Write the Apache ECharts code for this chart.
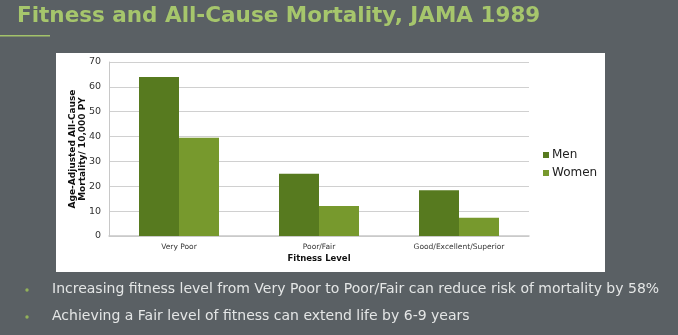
<!DOCTYPE html>
<html>
<head>
<meta charset="utf-8">
<script src="https://cdn.jsdelivr.net/npm/echarts@6/dist/echarts.min.js"></script>
<style>
  html, body { margin: 0; padding: 0; background: #5a6064; }
  #chart { width: 678px; height: 335px; }
</style>
</head>
<body>
<div id="chart"></div>
<script>
// Fitness categories and age-adjusted all-cause mortality per 10,000 person-years
const categories = ['Very Poor', 'Poor/Fair', 'Good/Excellent/Superior'];
const menValues = [64, 25, 18.4];
const womenValues = [39.5, 12.1, 7.3];
const yTicks = { min: 0, max: 70, interval: 10 };

const titleText = 'Fitness and All-Cause Mortality, JAMA 1989';
const bulletLines = [
  'Increasing fitness level from Very Poor to Poor/Fair can reduce risk of mortality by 58%',
  'Achieving a Fair level of fitness can extend life by 6-9 years'
];

const chart = echarts.init(document.getElementById('chart'), null, { renderer: 'canvas' });

const baseFont = 'Verdana, "DejaVu Sans", sans-serif';

const graphics = [
  // white chart panel
  { type: 'rect', z: -10, shape: { x: 56, y: 53, width: 549, height: 219 }, style: { fill: '#ffffff' } },
  // short rule under the heading
  { type: 'rect', shape: { x: 0, y: 35, width: 50, height: 1.5 }, style: { fill: '#a3c26a' } },
  // heading
  {
    type: 'text', left: 17, top: 5,
    style: {
      text: titleText, fill: '#a6c66c',
      font: 'bold 21.5px "DejaVu Sans", sans-serif',
      shadowColor: 'rgba(0,0,0,0.55)', shadowOffsetX: 1.5, shadowOffsetY: 1.5, shadowBlur: 1
    }
  }
];

bulletLines.forEach((line, i) => {
  const y = 290 + i * 27;
  graphics.push({ type: 'circle', shape: { cx: 27, cy: y, r: 1.7 }, style: { fill: '#93b25a' } });
  graphics.push({
    type: 'text', left: 52, top: y - 8,
    style: { text: line, fill: '#e4e6e6', font: '14px "DejaVu Sans", sans-serif' }
  });
});

chart.setOption({
  backgroundColor: '#5a6064',
  animation: false,
  graphic: graphics,
  grid: { left: 109, right: 149, top: 62, bottom: 99, containLabel: false },
  legend: {
    orient: 'vertical', left: 543, top: 149, padding: 0, itemWidth: 6, itemHeight: 6, itemGap: 6,
    icon: 'rect',
    textStyle: { fontFamily: baseFont, fontSize: 12, color: '#222', padding: [0, 0, 0, -2] },
    data: ['Men', 'Women']
  },
  xAxis: {
    type: 'category', data: categories,
    name: 'Fitness Level', nameLocation: 'middle', nameGap: 18,
    nameMoveOverlap: false,
    nameTextStyle: { fontFamily: baseFont, fontSize: 8.5, fontWeight: 'bold', color: '#111' },
    axisLine: { lineStyle: { color: '#c8c8c8', width: 1.5 } },
    axisTick: { show: false },
    axisLabel: { fontFamily: baseFont, fontSize: 7.5, color: '#333', margin: 7 }
  },
  yAxis: {
    type: 'value', min: yTicks.min, max: yTicks.max, interval: yTicks.interval,
    name: 'Age-Adjusted All-Cause\nMortality/ 10,000 PY', nameLocation: 'middle', nameGap: 21,
    nameMoveOverlap: false,
    nameRotate: 90,
    nameTextStyle: { fontFamily: baseFont, fontSize: 9, fontWeight: 'bold', color: '#111', lineHeight: 10 },
    axisLine: { show: true, lineStyle: { color: '#c8c8c8' } },
    axisTick: { show: false },
    axisLabel: { fontFamily: baseFont, fontSize: 9.5, color: '#333', margin: 8 },
    splitLine: { lineStyle: { color: '#d0d0d0', width: 1 } }
  },
  series: [
    { name: 'Men', type: 'bar', data: menValues, barWidth: 40, barGap: '0%', itemStyle: { color: '#577a1f' } },
    { name: 'Women', type: 'bar', data: womenValues, barWidth: 40, itemStyle: { color: '#77992d' } }
  ]
});
</script>
</body>
</html>
